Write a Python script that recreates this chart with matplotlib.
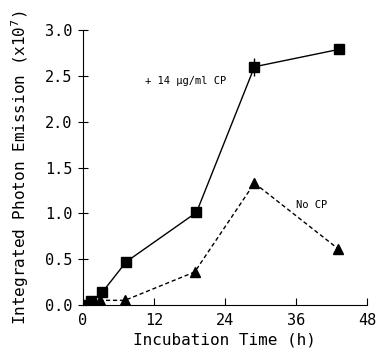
import matplotlib.pyplot as plt

# incubation time (h)
time_cp = [0.5, 1.4, 3.3, 7.3, 19.2, 29.0, 43.3]
emission_cp = [0.0, 0.04, 0.14, 0.47, 1.01, 2.60, 2.79]
err_cp = [0, 0, 0, 0, 0, 0.1, 0]

time_nocp = [0.5, 2.9, 7.1, 18.9, 29.0, 43.2]
emission_nocp = [0.0, 0.05, 0.05, 0.36, 1.33, 0.61]

xticks = [0, 12, 24, 36, 48]
yticks = [0.0, 0.5, 1.0, 1.5, 2.0, 2.5, 3.0]

plt.rcParams['font.family'] = ['DejaVu Sans Mono']

fig = plt.figure(figsize=(3.77, 3.63), dpi=100)
ax = fig.add_axes([0.22, 0.16, 0.753, 0.757])

ax.errorbar(time_cp, emission_cp, yerr=err_cp, color='black', lw=1.0,
            marker='s', ms=6.5, capsize=0, elinewidth=1)
ax.plot(time_nocp, emission_nocp, color='black', lw=1.0, ls=(0, (3, 2)),
        marker='^', ms=6.5)

ax.text(10.5, 2.45, '+ 14 µg/ml CP', fontsize=7.5, va='center')
ax.text(36.0, 1.09, 'No CP', fontsize=7.5, va='center')

ax.set_xlim(0, 48)
ax.set_ylim(0, 3.0)
ax.set_xticks(xticks)
ax.set_yticks(yticks)
ax.set_yticklabels([f'{v:.1f}' for v in yticks])
ax.spines['top'].set_visible(False)
ax.spines['right'].set_visible(False)
ax.tick_params(axis='x', direction='in', length=5, labelsize=11, pad=6)
ax.tick_params(axis='y', direction='inout', length=7, labelsize=11, pad=4)
ax.set_xlabel('Incubation Time (h)', fontsize=11.5, labelpad=3)
ax.set_ylabel('Integrated Photon Emission (x10$^7$)', fontsize=11.5, labelpad=10)

fig.savefig('out.png', dpi=100)
